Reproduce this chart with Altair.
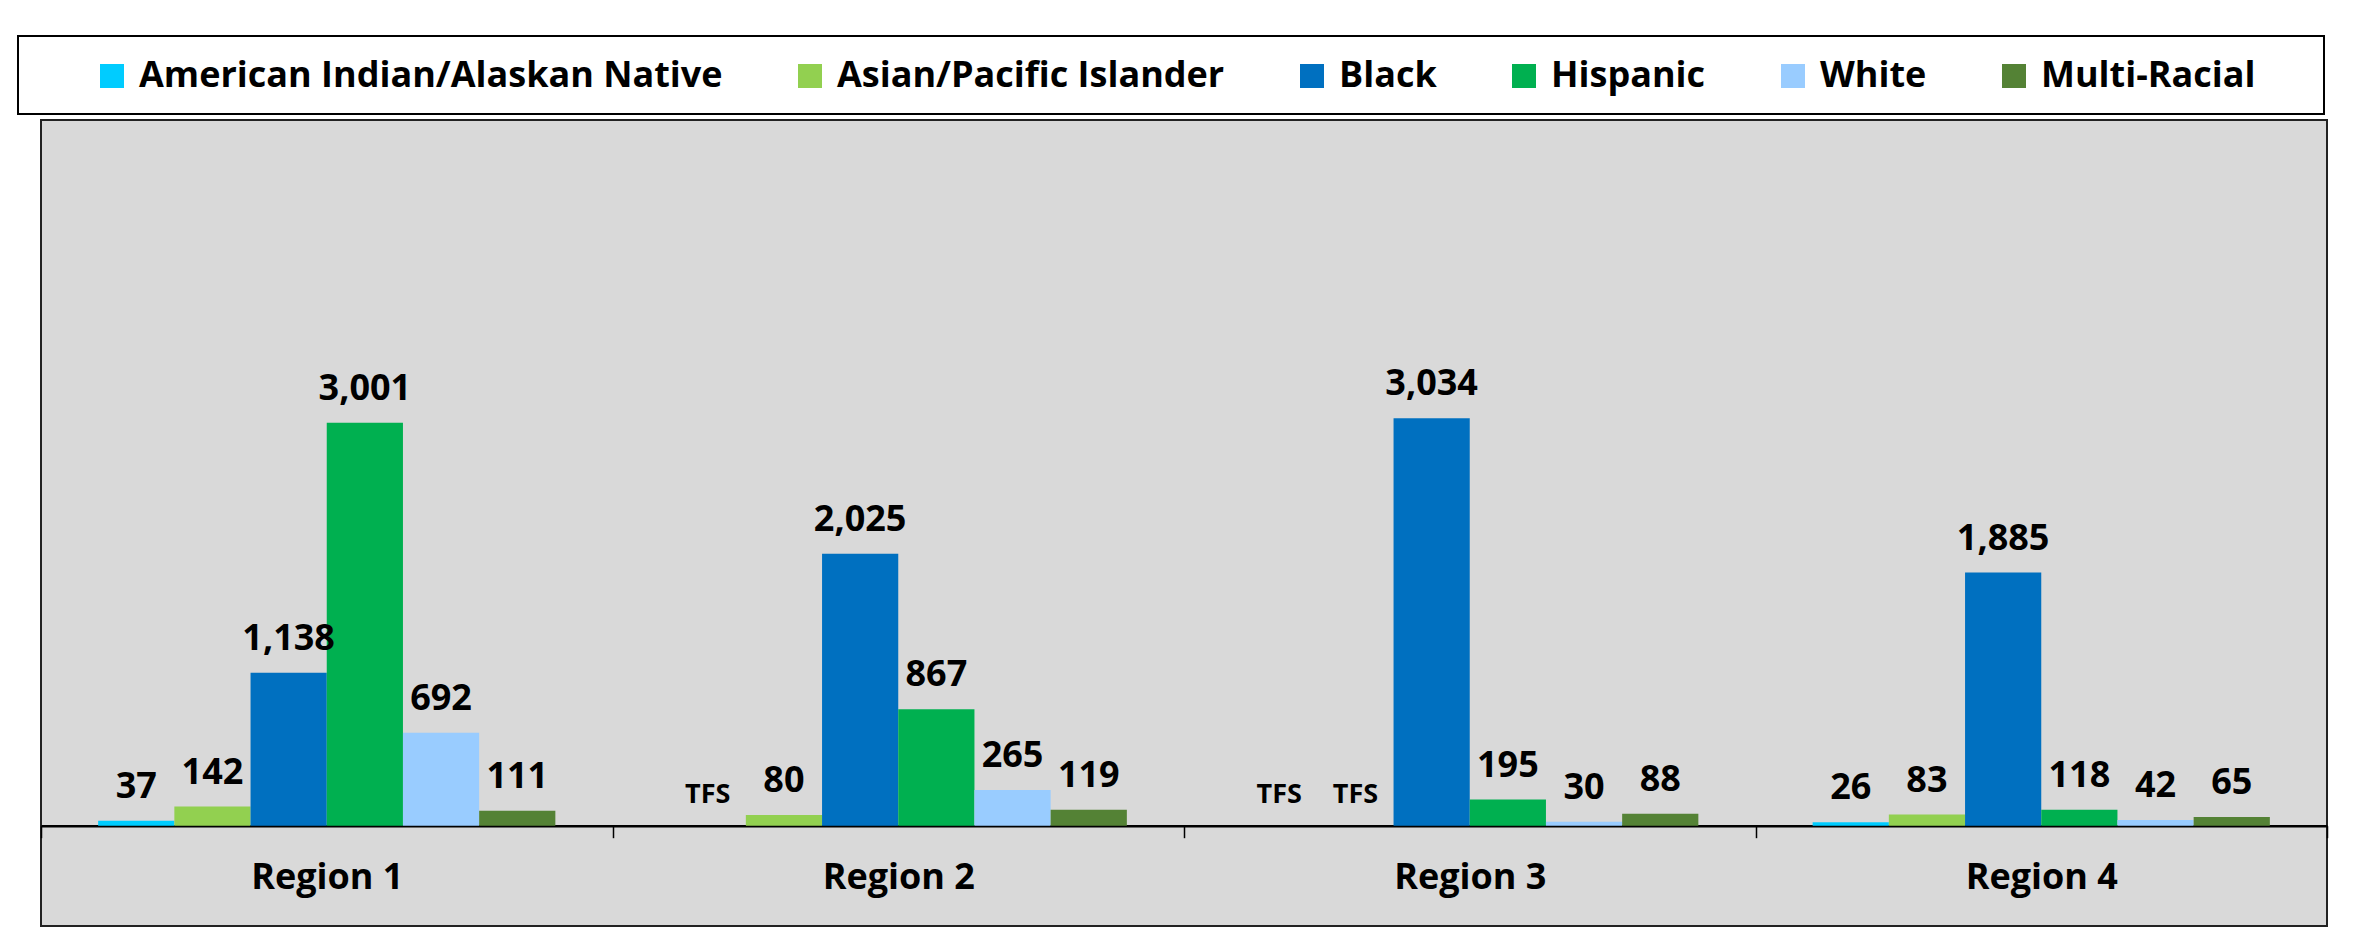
import altair as alt
import pandas as pd

FONT = "Open Sans"

regions = ["Region 1", "Region 2", "Region 3", "Region 4"]
races = ["American Indian/Alaskan Native", "Asian/Pacific Islander", "Black",
         "Hispanic", "White", "Multi-Racial"]
colors = ["#00CCFF", "#92D050", "#0070C0", "#00B050", "#99CCFF", "#548235"]

# None = TFS (too few to show)
region1 = [37, 142, 1138, 3001, 692, 111]
region2 = [None, 80, 2025, 867, 265, 119]
region3 = [None, None, 3034, 195, 30, 88]
region4 = [26, 83, 1885, 118, 42, 65]

rows = []
for reg, vals in zip(regions, [region1, region2, region3, region4]):
    for race, v in zip(races, vals):
        rows.append({
            "Region": reg,
            "Race": race,
            "Value": 0 if v is None else v,
            "Label": "TFS" if v is None else f"{v:,}",
        })
df = pd.DataFrame(rows)

# layout
W, H = 2286, 806
LEG_W, LEG_H = 2306, 78
Y_MIN, Y_MAX = -747, 5255
X_AXIS_OFFSET = -H * (0 - Y_MIN) / (Y_MAX - Y_MIN)

base = alt.Chart(df).encode(
    x=alt.X(
        "Region:N", sort=regions,
        scale=alt.Scale(paddingInner=0, paddingOuter=0),
        axis=alt.Axis(
            title=None, labelAngle=0, labelFont=FONT, labelFontSize=36,
            labelFontWeight="bold", labelColor="black",
            domainColor="black", domainWidth=2.5,
            tickColor="black", tickWidth=1.5, tickSize=12, tickBand="extent",
            labelPadding=23, offset=X_AXIS_OFFSET, grid=False,
        ),
    ),
    xOffset=alt.XOffset("Race:N", sort=races,
                        scale=alt.Scale(paddingInner=0, paddingOuter=0.75)),
)

yscale = alt.Scale(domain=[Y_MIN, Y_MAX], nice=False)

bars = base.mark_bar().encode(
    y=alt.Y("Value:Q", scale=yscale, axis=None),
    color=alt.Color(
        "Race:N", sort=races,
        scale=alt.Scale(domain=races, range=colors),
        legend=alt.Legend(
            title=None, orient="none", legendX=76, legendY=22,
            direction="horizontal", symbolType="square", symbolSize=576,
            symbolStrokeWidth=0, labelFont=FONT, labelFontSize=36,
            labelFontWeight="bold", labelColor="black", columnPadding=69,
            labelOffset=9, padding=0, labelLimit=0,
        ),
    ),
)

labels = base.mark_text(
    font=FONT, fontWeight="bold", baseline="alphabetic", dy=-23, color="black"
).encode(
    y=alt.Y("Value:Q", scale=yscale, axis=None),
    text="Label:N",
    size=alt.condition("datum.Label == 'TFS'", alt.value(27), alt.value(36)),
)

plot = alt.layer(bars, labels).properties(
    width=W, height=H,
    view=alt.ViewBackground(fill="#D9D9D9", stroke="#222222", strokeWidth=2),
)

empty = pd.DataFrame({"a": [0]})

spacer = alt.Chart(empty).mark_text(text="", fontSize=1).encode(
    x=alt.value(0), y=alt.value(H / 2)
).properties(
    width=1, height=H,
    view=alt.ViewBackground(fill="transparent", stroke="transparent"),
)

legend_box = alt.Chart(empty).mark_text(text="", fontSize=1).encode(
    x=alt.value(LEG_W / 2), y=alt.value(LEG_H / 2)
).properties(
    width=LEG_W, height=LEG_H,
    view=alt.ViewBackground(fill="white", stroke="black", strokeWidth=2),
)

chart = alt.vconcat(
    legend_box,
    alt.hconcat(spacer, plot, spacing=19),
    spacing=4,
).properties(
    padding={"left": 9, "top": 27, "right": 10, "bottom": 10},
    background="white",
)

chart.save("out.html", embed_options={"renderer": "svg", "actions": False})
